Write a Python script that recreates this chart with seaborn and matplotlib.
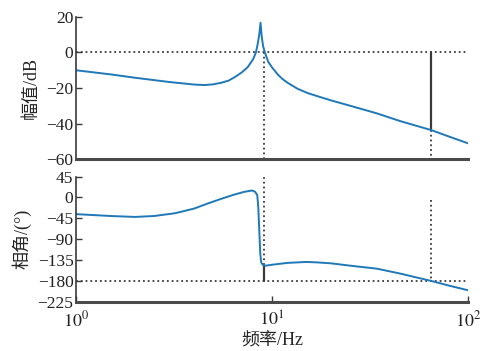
import numpy as np
import matplotlib
matplotlib.use('Agg')
import matplotlib.pyplot as plt
import seaborn as sns

# 幅频特性
mag_freq = [1.0, 1.5, 2.0, 3.0, 4.0, 4.5, 5.0, 5.5, 6.0, 6.5, 7.0, 7.5, 8.0, 8.27,
            8.45, 8.6, 8.73, 8.85, 9.0, 9.19, 9.55, 10.0, 10.7, 11.3, 12.0, 13.5,
            15.2, 17.1, 20.0, 25.0, 34.3, 45.0, 65.0, 80.0, 100.0]
mag_db = [-10.0, -12.3, -14.2, -16.6, -18.0, -18.3, -17.9, -17.0, -15.8, -13.6, -11.2,
          -8.3, -3.8, 0.0, 5.0, 10.0, 16.7, 9.0, 3.5, 0.0, -5.2, -8.4, -12.4, -14.9,
          -17.0, -20.4, -22.8, -24.6, -26.9, -29.9, -34.2, -38.5, -43.6, -47.2, -51.0]

# 相频特性
ph_freq = [1.0, 1.5, 2.0, 2.5, 3.2, 4.0, 4.7, 5.5, 6.4, 7.2, 7.9, 8.2, 8.4, 8.5, 8.6,
           8.7, 8.8, 9.0, 9.3, 10.0, 12.0, 15.0, 17.0, 20.0, 25.0, 34.3, 45.0, 65.0,
           80.0, 100.0]
ph_deg = [-36.0, -40.0, -42.0, -40.0, -34.0, -24.0, -13.0, -3.0, 6.0, 12.0, 15.0,
          12.0, 5.0, -20.0, -70.0, -120.0, -140.0, -146.0, -147.0, -145.0, -141.0,
          -139.0, -140.0, -142.0, -147.0, -153.5, -164.0, -180.0, -190.0, -200.0]

# 稳定裕度标记
pm_freq, pm_phase = 9.1, -147.0
gm_freq, gm_db = 65.0, -43.6
gm_line_top = -5.0

mag_yticks = [-60, -40, -20, 0, 20]
ph_yticks = [-225, -180, -135, -90, -45, 0, 45]
xticks = [1, 10, 100]

sns.set_theme(style='ticks')
plt.rcParams['font.family'] = ['Liberation Serif', 'Noto Sans CJK SC']
plt.rcParams['mathtext.fontset'] = 'stix'

line_c = '#1f78b8'
ref_c = '#3a3a3a'
fs = 12.5

fig = plt.figure(figsize=(4.82, 3.51), dpi=100)
ax1 = fig.add_axes([0.158, 0.546, 0.813, 0.406])
ax2 = fig.add_axes([0.158, 0.140, 0.813, 0.357])

for ax in (ax1, ax2):
    ax.set_xscale('log')
    ax.set_xlim(1, 100)
    ax.spines['top'].set_visible(False)
    ax.spines['right'].set_visible(False)
    ax.spines['left'].set_color(ref_c)
    ax.spines['left'].set_linewidth(1.2)
    ax.spines['bottom'].set_color('#4a4a4a')
    ax.spines['bottom'].set_linewidth(2.2)
    ax.tick_params(direction='in', length=4, width=1, colors=ref_c,
                   labelcolor='#222222', labelsize=fs, pad=2)
    ax.minorticks_off()

# 幅值
ax1.axhline(0, color=ref_c, ls=':', lw=1.3)
ax1.plot([pm_freq, pm_freq], [0, -60], color=ref_c, ls=':', lw=1.3)
ax1.plot([gm_freq, gm_freq], [0, gm_db], color=ref_c, lw=1.6)
ax1.plot([gm_freq, gm_freq], [gm_db, -60], color=ref_c, ls=':', lw=1.3)
sns.lineplot(x=mag_freq, y=mag_db, ax=ax1, color=line_c, lw=1.4, sort=False)
ax1.set_ylim(-60, 20)
ax1.set_yticks(mag_yticks)
ax1.set_yticklabels([str(v).replace('-', '\u2212') for v in mag_yticks])
ax1.set_xticks([])
ax1.tick_params(axis='x', which='both', bottom=False, labelbottom=False)
ax1.set_ylabel('幅值/dB', fontsize=13, labelpad=5)

# 相角
ax2.axhline(-180, color=ref_c, ls=':', lw=1.3)
ax2.plot([pm_freq, pm_freq], [45, pm_phase], color=ref_c, ls=':', lw=1.3)
ax2.plot([pm_freq, pm_freq], [pm_phase, -180], color=ref_c, lw=1.6)
ax2.plot([gm_freq, gm_freq], [gm_line_top, -180], color=ref_c, ls=':', lw=1.3)
sns.lineplot(x=ph_freq, y=ph_deg, ax=ax2, color=line_c, lw=1.4, sort=False)
ax2.set_ylim(-225, 45)
ax2.set_yticks(ph_yticks)
ax2.set_yticklabels([str(v).replace('-', '\u2212') for v in ph_yticks])
ax2.set_xticks(xticks)
ax2.set_xticklabels([r'$10^{%d}$' % int(np.log10(v)) for v in xticks])
ax2.minorticks_off()
ax2.tick_params(axis='x', pad=6, labelsize=13)
ax2.set_ylabel('相角/(°)', fontsize=13, labelpad=4)
ax2.set_xlabel('频率/Hz', fontsize=13, labelpad=2)

fig.align_ylabels([ax1, ax2])
fig.savefig('out.png', dpi=100)
